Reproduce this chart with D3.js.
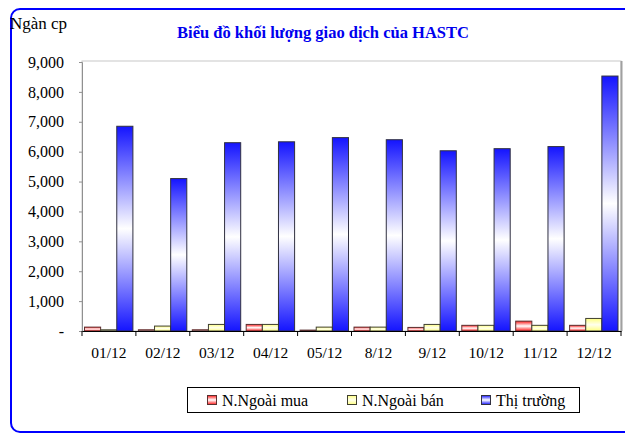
<!DOCTYPE html>
<html><head><meta charset="utf-8">
<script src="https://cdn.jsdelivr.net/npm/d3@7"></script>
<style>html,body{margin:0;padding:0;background:#fff}svg{display:block}</style>
</head><body>
<svg id="c" width="625" height="433"></svg>
<script>
const categories = ["01/12","02/12","03/12","04/12","05/12","8/12","9/12","10/12","11/12","12/12"];
const seriesNames = ["N.Ngoài mua","N.Ngoài bán","Thị trường"];
const foreignBuy  = [130, 40, 40, 220, 30, 130, 120, 190, 330, 190];
const foreignSell = [40, 165, 220, 220, 130, 130, 220, 190, 190, 420];
const market      = [6850, 5100, 6300, 6330, 6470, 6400, 6030, 6100, 6170, 8530];
const yTicks = [0,1000,2000,3000,4000,5000,6000,7000,8000,9000];
const title = "Biểu đồ khối lượng giao dịch của HASTC";
const unitLabel = "Ngàn cp";

const series = [foreignBuy, foreignSell, market];
const grad = [
  {id:"gRed", edge:"#ff1a1a", mid:"#ffffff", stroke:"#5a3030"},
  {id:"gYel", edge:"#ffff80", mid:"#ffffee", stroke:"#404030"},
  {id:"gBlu", edge:"#1414ff", mid:"#ffffff", stroke:"#303040"}
];
const FONT = "'Liberation Serif','Times New Roman',serif";

const svg = d3.select("#c");
const defs = svg.append("defs");
grad.forEach(g => {
  const lg = defs.append("linearGradient").attr("id", g.id)
    .attr("x1",0).attr("y1",0).attr("x2",0).attr("y2",1);
  lg.append("stop").attr("offset","0%").attr("stop-color",g.edge);
  lg.append("stop").attr("offset","50%").attr("stop-color",g.mid);
  lg.append("stop").attr("offset","100%").attr("stop-color",g.edge);
});

// outer rounded border
svg.append("rect").attr("x",11).attr("y",9).attr("width",640).attr("height",423)
  .attr("rx",9).attr("fill","none").attr("stroke","#0000ff").attr("stroke-width",2);

const L = 82, R = 621, T = 62, B = 331;
const x = d3.scaleBand().domain(categories).range([L, R]).padding(0);
const bw = x.bandwidth();
const xi = d3.scaleBand().domain(d3.range(3)).range([2.5, bw - 3]).padding(0);
const y = d3.scaleLinear().domain([0, 9000]).range([B, T]);

// plot area border
svg.append("rect").attr("x",L).attr("y",T-1).attr("width",R-L).attr("height",B-T+1)
  .attr("fill","none").attr("stroke","#c8c8c8").attr("stroke-width",1);
svg.append("line").attr("x1",R+0.5).attr("x2",R+0.5).attr("y1",T-1).attr("y2",B)
  .attr("stroke","#a0a0a0").attr("stroke-width",2);

// bars
series.forEach((vals, si) => {
  svg.append("g").selectAll("rect").data(vals).join("rect")
    .attr("x", (d,i) => x(categories[i]) + xi(si))
    .attr("y", d => y(d))
    .attr("width", xi.bandwidth())
    .attr("height", d => B - y(d))
    .attr("fill", `url(#${grad[si].id})`)
    .attr("stroke", grad[si].stroke).attr("stroke-width", 1);
});

// y axis
const yAxis = d3.axisLeft(y).tickValues(yTicks).tickSize(3).tickPadding(15)
  .tickFormat(d => d === 0 ? "-" : d3.format(",")(d));
const gy = svg.append("g").attr("transform", `translate(${L},0)`).call(yAxis);
gy.select(".domain").attr("stroke","#909090");
gy.selectAll(".tick line").attr("stroke","#909090");
gy.selectAll("text").attr("font-family",FONT).attr("font-size","16px").attr("fill","#000");

// x axis
const gx = svg.append("g").attr("transform", `translate(0,${B})`)
  .call(d3.axisBottom(x).tickSize(0).tickPadding(16));
gx.select(".domain").attr("stroke","#000");
gx.selectAll("text").attr("font-family",FONT).attr("font-size","15.5px").attr("fill","#000");
gx.selectAll(".bound").data(categories.concat([null])).join("line")
  .attr("x1",(d,i)=> L + i*bw).attr("x2",(d,i)=> L + i*bw)
  .attr("y1",0).attr("y2",5).attr("stroke","#000");

// titles
svg.append("text").attr("x",323).attr("y",38).attr("text-anchor","middle")
  .attr("font-family",FONT).attr("font-weight","bold").attr("font-size","16.5px")
  .attr("fill","#0000ee").text(title);
svg.append("text").attr("x",10).attr("y",29)
  .attr("font-family",FONT).attr("font-size","17px").attr("fill","#000").text(unitLabel);

// legend
svg.append("rect").attr("x",187.5).attr("y",387.5).attr("width",392).attr("height",25)
  .attr("fill","#fff").attr("stroke","#000").attr("stroke-width",1);
const legX = [207, 347, 481];
const lg = svg.append("g").selectAll("g").data(seriesNames).join("g")
  .attr("transform",(d,i)=>`translate(${legX[i]},395)`);
lg.append("rect").attr("x",0.5).attr("y",0.5).attr("width",9).attr("height",9)
  .attr("fill",(d,i)=>`url(#${grad[i].id})`).attr("stroke",(d,i)=>grad[i].stroke);
lg.append("text").attr("x",15).attr("y",10.5).attr("font-family",FONT).attr("font-size","16px")
  .attr("fill","#000").text(d=>d);
</script>
</body></html>
